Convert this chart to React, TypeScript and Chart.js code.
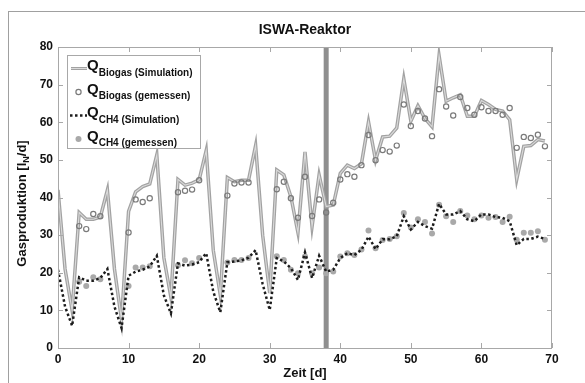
import React, { useEffect, useRef } from "react";
import { Chart, registerables } from "chart.js";
Chart.register(...registerables);

const FONT = '"Liberation Sans", Arial, Helvetica, sans-serif';

const TITLE = "ISWA-Reaktor";
const X_TITLE = "Zeit [d]";
const Y_TITLE_MAIN = "Gasproduktion [l";
const Y_TITLE_SUB = "N";
const Y_TITLE_END = "/d]";
const MARKER_DAY = 38;

const days = [
  0, 1, 2, 3, 4, 5, 6, 7, 8, 9, 10, 11, 12, 13, 14, 15, 16, 17, 18, 19,
  20, 21, 22, 23, 24, 25, 26, 27, 28, 29, 30, 31, 32, 33, 34, 35, 36, 37, 38, 39,
  40, 41, 42, 43, 44, 45, 46, 47, 48, 49, 50, 51, 52, 53, 54, 55, 56, 57, 58, 59,
  60, 61, 62, 63, 64, 65, 66, 67, 68, 69,
];

const biogasSim = [
  42, 21, 10, 36, 34.2, 34.2, 34.8, 42, 21, 7.5,
  36.3, 41.5, 42.9, 43.6, 51.3, 24, 13.5, 44.8, 43.3, 43.8,
  44.7, 52.5, 26, 14, 45.3, 44.2, 44.6, 44.6, 53.8, 30,
  14.6, 47.3, 46, 40.2, 30.7, 52.1, 32.3, 46, 37.6, 38,
  46.4, 48.6, 47.7, 49, 60.1, 49.9, 56.1, 56.3, 58.5, 71.5,
  60.3, 64.4, 61, 58.8, 77.7, 65.6, 66.5, 67.3, 61.6, 61.6,
  65.8, 64.7, 63.4, 63, 60.7, 44.8, 53.6, 53.8, 55.4, 55,
];

const biogasMeas = [
  null, null, null, 32.4, 31.6, 35.6, 35, null, null, null,
  30.7, 39.5, 38.8, 39.8, null, null, null, 41.4, 41.8, 42.1,
  44.6, null, null, null, 40.5, 43.7, 44, 44, null, null,
  null, 42.2, 44.2, 39.8, 34.6, 45.5, 35.1, 39.5, 36, 38.6,
  44.8, 46.2, 45.5, 48.6, 56.6, 49.9, 52.6, 52.2, 53.8, 64.7,
  59, 63, 61, 56.3, 68.8, 64.2, 61.8, 66.7, 63.8, 62,
  64, 63, 63, 62, 63.8, 53.2, 56.1, 55.8, 56.7, 53.6,
];

const ch4Sim = [
  20.8, 11, 5.9, 18.8, 17.9, 17.9, 18.6, 21, 11, 5.3,
  19.2, 20.3, 20.8, 21.7, 24.5, 14, 9.2, 22.5, 21.9, 22.2,
  22.8, 25.2, 15, 9.5, 22.8, 23, 23.3, 24, 26, 17,
  10.1, 23.9, 23, 21.2, 18.1, 25.4, 18.6, 24.5, 20.3, 20.8,
  23.9, 25.2, 24.7, 26.1, 29.6, 26.3, 28.9, 28.9, 29.7, 35,
  31.5, 33.5, 32.4, 31.7, 38.3, 35.5, 35.5, 36.4, 34.2, 33.7,
  35.5, 35.5, 34.8, 34.6, 33.7, 27.3, 29, 29, 29.6, 29,
];

const ch4Meas = [
  null, null, null, 17.6, 16.5, 18.8, 18.3, null, null, null,
  16.5, 21.4, 21.4, 21.7, null, null, null, 22, 23.3, 22.5,
  23.9, null, null, null, 22.7, 23.4, 23.4, 23.9, null, null,
  null, 24.4, 23.4, 20.8, 19.9, 24.3, 19.9, 21.4, 19.9, 20.3,
  24.3, 25.2, 24.7, 26.2, 31.2, 26.5, 28.7, 29, 29.7, 35.9,
  32, 34.2, 33.5, 30.4, 38.1, 35, 33.5, 36.4, 35.2, 34.2,
  35.2, 34.6, 34.8, 33.5, 34.9, 28.8, 30.6, 30.6, 31, 28.8,
];

const legendItems = [
  { main: "Q", sub: "Biogas (Simulation)", kind: "line" },
  { main: "Q", sub: "Biogas (gemessen)", kind: "circle" },
  { main: "Q", sub: "CH4 (Simulation)", kind: "dotted" },
  { main: "Q", sub: "CH4 (gemessen)", kind: "dot" },
];

const toPoints = (vals: (number | null)[]) =>
  days
    .map((d, i) => ({ x: d, y: vals[i] }))
    .filter((p) => p.y !== null) as { x: number; y: number }[];

const BIO_LINE = "#a2a2a2";
const BIO_INNER = "#dadada";
const BIO_CIRCLE = "#7a7a7a";
const CH4_LINE = "#1c1c1c";
const CH4_DOT = "#a9a9a9";
const BOX = "#a8a8a8";

const overlay = {
  id: "overlay",
  beforeDatasetsDraw(chart: any) {
    const { ctx, chartArea: a, scales } = chart;
    const px = scales.x.getPixelForValue(MARKER_DAY);
    ctx.save();
    ctx.fillStyle = "#8f8f8f";
    ctx.fillRect(px - 2.5, a.top, 5, a.bottom - a.top);
    ctx.restore();
  },
  afterDraw(chart: any) {
    const { ctx, chartArea: a, scales } = chart;
    ctx.save();
    // box
    ctx.strokeStyle = BOX;
    ctx.lineWidth = 1;
    ctx.strokeRect(a.left + 0.5, a.top + 0.5, a.right - a.left - 1, a.bottom - a.top);
    // inward ticks
    const tl = 5;
    ctx.beginPath();
    scales.x.ticks.forEach((t: any) => {
      const px = Math.round(scales.x.getPixelForValue(t.value)) + 0.5;
      ctx.moveTo(px, a.bottom);
      ctx.lineTo(px, a.bottom - tl);
      ctx.moveTo(px, a.top);
      ctx.lineTo(px, a.top + tl);
    });
    scales.y.ticks.forEach((t: any) => {
      const py = Math.round(scales.y.getPixelForValue(t.value)) + 0.5;
      ctx.moveTo(a.left, py);
      ctx.lineTo(a.left + tl, py);
      ctx.moveTo(a.right, py);
      ctx.lineTo(a.right - tl, py);
    });
    ctx.stroke();

    // title
    ctx.fillStyle = "#111";
    ctx.textAlign = "center";
    ctx.textBaseline = "middle";
    ctx.font = `bold 14px ${FONT}`;
    ctx.fillText(TITLE, (a.left + a.right) / 2, 30);

    // x title
    ctx.font = `bold 13px ${FONT}`;
    ctx.fillText(X_TITLE, (a.left + a.right) / 2, 373);

    // y title with subscript
    ctx.save();
    ctx.translate(22, (a.top + a.bottom) / 2 + 6);
    ctx.rotate(-Math.PI / 2);
    ctx.textAlign = "left";
    ctx.font = `bold 13px ${FONT}`;
    const w1 = ctx.measureText(Y_TITLE_MAIN).width;
    const w3 = ctx.measureText(Y_TITLE_END).width;
    ctx.font = `bold 9px ${FONT}`;
    const w2 = ctx.measureText(Y_TITLE_SUB).width;
    let sx = -(w1 + w2 + w3) / 2;
    ctx.font = `bold 13px ${FONT}`;
    ctx.fillText(Y_TITLE_MAIN, sx, 0);
    sx += w1;
    ctx.font = `bold 9px ${FONT}`;
    ctx.fillText(Y_TITLE_SUB, sx, 5);
    sx += w2;
    ctx.font = `bold 13px ${FONT}`;
    ctx.fillText(Y_TITLE_END, sx, 0);
    ctx.restore();

    // legend
    const lx = 67, ly = 55, lw = 133, lh = 93;
    ctx.fillStyle = "#fff";
    ctx.fillRect(lx, ly, lw, lh);
    ctx.strokeStyle = BOX;
    ctx.strokeRect(lx + 0.5, ly + 0.5, lw, lh);
    legendItems.forEach((it, i) => {
      const cy = 66 + i * 23.5;
      const sy = cy + 2.5;
      if (it.kind === "line") {
        ctx.strokeStyle = BIO_LINE;
        ctx.lineWidth = 3;
        ctx.beginPath();
        ctx.moveTo(71, sy);
        ctx.lineTo(87, sy);
        ctx.stroke();
        ctx.strokeStyle = BIO_INNER;
        ctx.lineWidth = 1;
        ctx.beginPath();
        ctx.moveTo(71, sy);
        ctx.lineTo(87, sy);
        ctx.stroke();
      } else if (it.kind === "dotted") {
        ctx.strokeStyle = CH4_LINE;
        ctx.lineWidth = 2.5;
        ctx.setLineDash([2.5, 2.5]);
        ctx.beginPath();
        ctx.moveTo(70, sy);
        ctx.lineTo(87, sy);
        ctx.stroke();
        ctx.setLineDash([]);
      } else if (it.kind === "circle") {
        ctx.strokeStyle = BIO_CIRCLE;
        ctx.lineWidth = 1.2;
        ctx.beginPath();
        ctx.arc(78.5, sy, 2.6, 0, Math.PI * 2);
        ctx.stroke();
      } else {
        ctx.fillStyle = CH4_DOT;
        ctx.beginPath();
        ctx.arc(78.5, sy, 3, 0, Math.PI * 2);
        ctx.fill();
      }
      ctx.fillStyle = "#111";
      ctx.textAlign = "left";
      ctx.textBaseline = "middle";
      ctx.font = `bold 15px ${FONT}`;
      ctx.fillText(it.main, 87, cy);
      const qw = ctx.measureText(it.main).width;
      ctx.font = `bold 10px ${FONT}`;
      ctx.fillText(it.sub, 87 + qw, cy + 7);
    });
    ctx.restore();
  },
};

export default function App() {
  const ref = useRef<HTMLCanvasElement | null>(null);
  useEffect(() => {
    if (!ref.current) return;
    const tickFont = { family: FONT, size: 12, weight: "bold" as const };
    const chart = new Chart(ref.current, {
      type: "line",
      data: {
        datasets: [
          {
            label: "QBiogas (Simulation)",
            data: toPoints(biogasSim),
            borderColor: BIO_LINE,
            borderWidth: 3.5,
            pointRadius: 0,
            tension: 0,
            order: 4,
          },
          {
            label: "QBiogas (Simulation) inner",
            data: toPoints(biogasSim),
            borderColor: BIO_INNER,
            borderWidth: 1.1,
            pointRadius: 0,
            tension: 0,
            order: 3,
          },
          {
            label: "QBiogas (gemessen)",
            data: toPoints(biogasMeas),
            showLine: false,
            pointRadius: 2.6,
            pointBorderWidth: 1.2,
            pointBorderColor: BIO_CIRCLE,
            pointBackgroundColor: "rgba(0,0,0,0)",
            borderColor: BIO_CIRCLE,
            order: 2,
          },
          {
            label: "QCH4 (gemessen)",
            data: toPoints(ch4Meas),
            showLine: false,
            pointRadius: 3,
            pointBorderWidth: 0,
            pointBackgroundColor: CH4_DOT,
            borderColor: CH4_DOT,
            order: 1,
          },
          {
            label: "QCH4 (Simulation)",
            data: toPoints(ch4Sim),
            borderColor: CH4_LINE,
            borderWidth: 2.5,
            borderDash: [2.5, 2.5],
            pointRadius: 0,
            tension: 0,
            order: 0,
          },
        ],
      },
      options: {
        animation: false,
        responsive: false,
        maintainAspectRatio: false,
        layout: { padding: { top: 47, right: 33, left: 0, bottom: 0 } },
        plugins: {
          legend: { display: false },
          tooltip: { enabled: false },
          title: { display: false },
        },
        scales: {
          x: {
            type: "linear",
            min: 0,
            max: 70,
            ticks: { stepSize: 10, font: tickFont, color: "#111", padding: 4, maxRotation: 0 },
            grid: { display: false, drawTicks: false },
            border: { display: false },
            afterFit: (s: any) => {
              s.height = 35;
            },
          },
          y: {
            min: 0,
            max: 80,
            ticks: { stepSize: 10, font: tickFont, color: "#111", padding: 5 },
            grid: { display: false, drawTicks: false },
            border: { display: false },
            afterFit: (s: any) => {
              s.width = 58;
            },
          },
        },
      },
      plugins: [overlay],
    });
    return () => chart.destroy();
  }, []);
  return (
    <div style={{ position: "fixed", left: 0, top: 0, width: 585, height: 383, background: "#fff", overflow: "hidden" }}>
      <canvas ref={ref} width={585} height={383} style={{ position: "absolute", left: 0, top: 0 }} />
      <div
        style={{
          position: "absolute",
          left: 8,
          top: 11,
          width: 600,
          height: 400,
          border: "1px solid #a0a0a0",
          pointerEvents: "none",
        }}
      />
    </div>
  );
}
